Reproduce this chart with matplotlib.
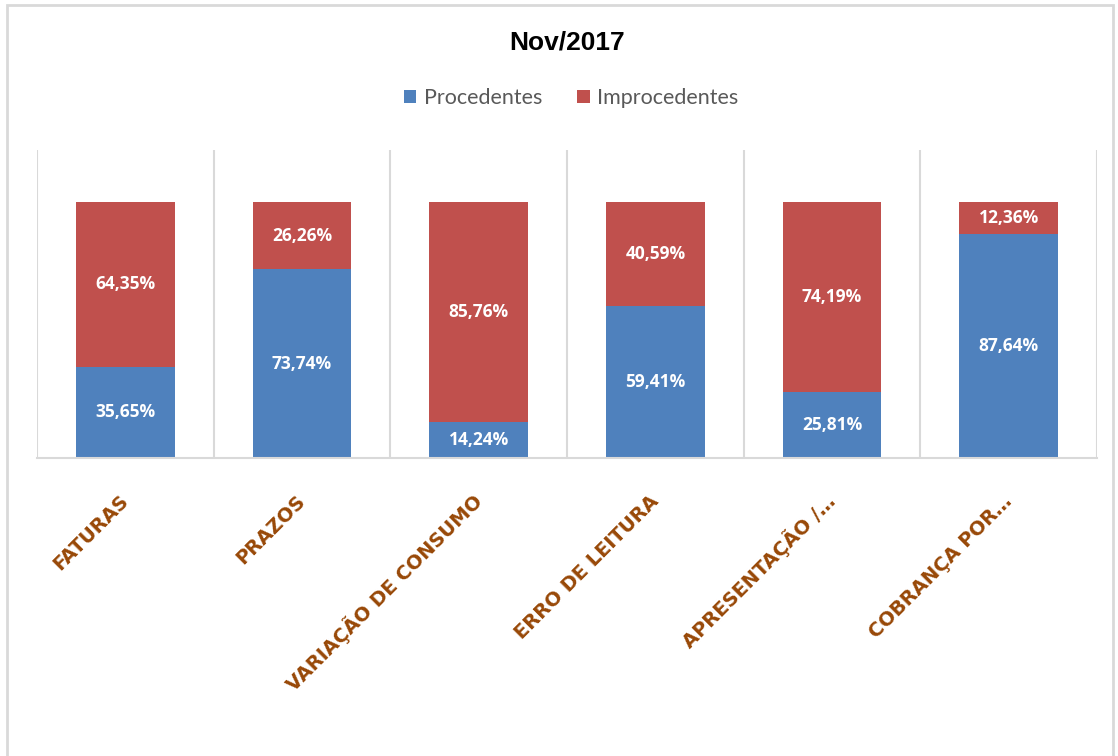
import matplotlib.pyplot as plt
from matplotlib.patches import Rectangle
import numpy as np

categories = ['FATURAS', 'PRAZOS', 'VARIAÇÃO DE CONSUMO', 'ERRO DE LEITURA',
              'APRESENTAÇÃO /…', 'COBRANÇA POR…']
procedentes = [35.65, 73.74, 14.24, 59.41, 25.81, 87.64]
improcedentes = [64.35, 26.26, 85.76, 40.59, 74.19, 12.36]
series_names = ['Procedentes', 'Improcedentes']
title = 'Nov/2017'

blue = '#4F81BD'
red = '#C0504D'
brown = '#984807'
grid = '#D9D9D9'

fig = plt.figure(figsize=(11.18, 7.56), dpi=100)
ax = fig.add_axes([37 / 1118, 1 - 458 / 756, 1060 / 1118, 308 / 756])

x = np.arange(len(categories))
b1 = ax.bar(x, procedentes, 0.56, color=blue, label=series_names[0], zorder=2)
b2 = ax.bar(x, improcedentes, 0.56, bottom=procedentes, color=red,
            label=series_names[1], zorder=2)

fmt = lambda v: '{:.2f}%'.format(v).replace('.', ',')
for bars, vals in ((b1, procedentes), (b2, improcedentes)):
    for r, v in zip(bars, vals):
        ax.text(r.get_x() + r.get_width() / 2, r.get_y() + r.get_height() / 2,
                fmt(v), ha='center', va='center', color='white',
                fontsize=12.5, fontweight='bold', family='Open Sans', zorder=3)

ax.set_xlim(-0.5, len(categories) - 0.5)
ax.set_ylim(0, 120.3)
for xv in np.arange(-0.5, len(categories), 1.0):
    ax.axvline(xv, color=grid, lw=1.5, zorder=1)
for s in ['top', 'right', 'left']:
    ax.spines[s].set_visible(False)
ax.spines['bottom'].set_color(grid)
ax.spines['bottom'].set_linewidth(1.5)
ax.set_yticks([])
ax.set_xticks([])

for xi, lab in zip(x, categories):
    ax.text(xi + 0.0, -0.13, lab, transform=ax.get_xaxis_transform(),
            rotation=45, rotation_mode='anchor', ha='right', va='center',
            color=brown, fontsize=14, fontweight='bold', family='DejaVu Sans')

fig.text(567 / 1118, 1 - 42 / 756, title, ha='center', va='center',
         fontsize=19, fontweight='bold', family='Liberation Sans')

fig.legend(handles=[b1, b2], labels=series_names, loc='center',
           bbox_to_anchor=(571 / 1118, 1 - 98 / 756), ncol=2, frameon=False,
           prop={'family': 'Lato', 'size': 15.5}, handlelength=0.6,
           handleheight=0.6, handletextpad=0.35, columnspacing=1.6,
           labelcolor='#595959')

fig.add_artist(Rectangle((7 / 1118, -0.02), 1106 / 1118, 0.02 + 1 - 5 / 756,
                         transform=fig.transFigure, fill=False,
                         edgecolor=grid, lw=2))

fig.savefig('out.png', dpi=100)
